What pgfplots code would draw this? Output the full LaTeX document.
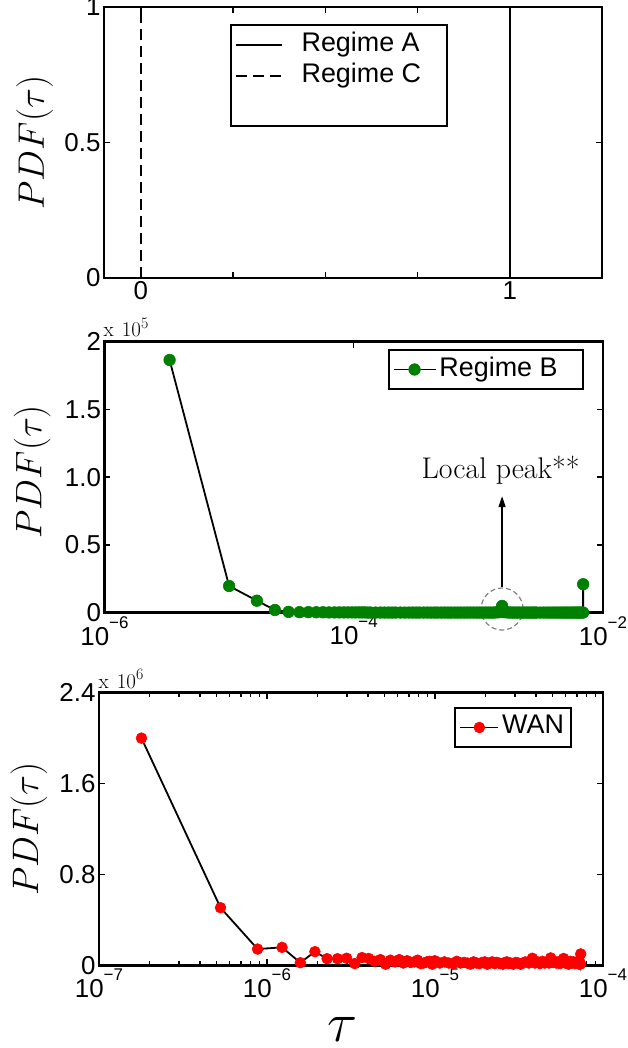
\RequirePackage{fix-cm}
\documentclass[border=0pt]{standalone}
\usepackage{fontspec}
\usepackage{pgfplots}
\pgfplotsset{compat=1.18}
\usetikzlibrary{arrows.meta}
\newfontfamily\arial{Liberation Sans}
% power-of-ten tick label in the sans face
\newcommand{\tenpow}[1]{10\raisebox{17bp}{\fontsize{17}{17}\selectfont −#1}}
% axis multiplier written above the y axis
\newcommand{\multiplier}[1]{{\fontsize{21}{24}\selectfont x\hspace{8bp}10\raisebox{8.5bp}{\fontsize{16}{16}\selectfont #1}}}
\definecolor{mgreen}{rgb}{0,0.5,0}

\pgfplotsset{
  panel/.style={
    scale only axis, clip=false, anchor=south west,
    axis line style={line width=2.4bp},
    tick align=inside, tick pos=both,
    major tick length=6bp, minor tick length=4bp,
    every tick/.style={black, line width=1.4bp},
    tick label style={font=\arial\fontsize{26}{31}\selectfont},
    label style={font=\fontsize{37}{44}\selectfont},
    legend cell align=left,
    legend style={draw=black, line width=2bp, font=\arial\fontsize{27}{32}\selectfont,
      inner sep=4bp,
      nodes={text height=19bp, text depth=6bp, inner sep=3bp}},
  },
  markleg/.style 2 args={
    legend image code/.code={%
      \draw[mark repeat=2,mark phase=2,##1] plot coordinates {(0bp,0bp) (#1,0bp) (#2,0bp)};}
  },
}

\begin{document}
\begin{tikzpicture}
\useasboundingbox (0,0) rectangle (628bp,1048bp);

% ---------- top: regimes A and C ----------
\begin{axis}[panel, at={(104bp,770bp)}, width=498bp, height=271bp,
  xmin=-0.1, xmax=1.25, ymin=0, ymax=1,
  xtick={0,0.25,0.5,0.75,1}, xticklabels={0,,,,1},
  xticklabel style={inner sep=3bp},
  ytick={0,0.5,1}, yticklabels={0,0.5,1},
  ylabel={$PDF(\tau)$},
  ylabel style={at={(axis description cs:-0.139,0.5)}, anchor=center},
  legend style={at={(axis description cs:0.253,0.936)}, anchor=north west},
  legend image code/.code={\draw[#1] (0bp,0bp) -- (46bp,0bp); \path (62bp,0bp);},
]
\addplot[black, line width=1.6bp] coordinates {(1,0) (1,1)};
\addlegendentry{Regime A\rule{20bp}{0pt}}
\addplot[black, line width=1.6bp, dash pattern=on 11bp off 6bp] coordinates {(0,0) (0,1)};
\addlegendentry{Regime C}
\addlegendimage{empty legend}
\addlegendentry{}
\end{axis}

% ---------- middle: regime B (values in units of 1e5) ----------
\begin{axis}[panel, at={(104.5bp,435.3bp)}, width=498.5bp, height=271bp,
  xmode=log, xmin=1e-6, xmax=1e-2, ymin=0, ymax=2,
  xtick={1e-6,1e-4,1e-2}, xticklabels={\tenpow{6},\tenpow{4},\tenpow{2}},
  xminorticks=false,
  ytick={0,0.5,1,1.5,2}, yticklabels={0,0.5,1.0,1.5,2},
  ylabel={$PDF(\tau)$},
  ylabel style={at={(axis description cs:-0.145,0.52)}, anchor=center},
  legend style={at={(axis description cs:0.961,0.973)}, anchor=north east},
  markleg={21bp}{42bp},
]
\addplot[black, line width=1.8bp, mark=*, mark size=5.8bp,
  mark options={fill=mgreen, draw=mgreen, line width=0.6bp}] coordinates {
  (3.33e-6,1.865) (1.0e-5,0.197) (1.67e-5,0.0886) (2.33e-5,0.02)
  (3.0e-5,0.006) (3.67e-5,0.004) (4.33e-5,0.004) (5.0e-5,0.003)
  (5.667e-5,0.003) (6.333e-5,0.002) (7.0e-5,0.002) (7.667e-5,0.002)
  (8.333e-5,0.002) (9.0e-5,0.002) (9.667e-5,0.002) (1.033e-4,0.002)
  (1.1e-4,0.002) (1.167e-4,0.002) (1.233e-4,0.002) (1.3e-4,0.001)
  (1.367e-4,0.001) (1.5e-4,0.001) (1.633e-4,0.001) (1.767e-4,0.001)
  (1.9e-4,0.001) (2.033e-4,0.001) (2.167e-4,0.001) (2.367e-4,0.001)
  (2.567e-4,0.001) (2.767e-4,0.001) (2.967e-4,0.001) (3.167e-4,0.001)
  (3.367e-4,0.001) (3.633e-4,0.001) (3.9e-4,0.001) (4.167e-4,0.001)
  (4.433e-4,0.001) (4.7e-4,0.001) (5.033e-4,0.001) (5.367e-4,0.001)
  (5.7e-4,0.001) (6.033e-4,0.001) (6.433e-4,0.001) (6.833e-4,0.001)
  (7.233e-4,0.001) (7.7e-4,0.001) (8.167e-4,0.001) (8.633e-4,0.001)
  (9.167e-4,0.001) (9.7e-4,0.001) (1.023e-3,0.001) (1.077e-3,0.001)
  (1.137e-3,0.001) (1.197e-3,0.001) (1.257e-3,0.001) (1.317e-3,0.001)
  (1.377e-3,0.002) (1.437e-3,0.003) (1.483e-3,0.005) (1.523e-3,0.012)
  (1.537e-3,0.03) (1.55e-3,0.05) (1.563e-3,0.03) (1.577e-3,0.012)
  (1.617e-3,0.005) (1.67e-3,0.003) (1.737e-3,0.002) (1.803e-3,0.001)
  (1.883e-3,0.001) (1.963e-3,0.001) (2.043e-3,0.001) (2.137e-3,0.001)
  (2.237e-3,0.001) (2.337e-3,0.001) (2.437e-3,0.001) (2.537e-3,0.001)
  (2.637e-3,0.001) (2.737e-3,0.001) (2.837e-3,0.001) (2.937e-3,0.001)
  (3.137e-3,0.001) (3.337e-3,0.001) (3.537e-3,0.001) (3.737e-3,0.001)
  (3.937e-3,0.001) (4.137e-3,0.001) (4.337e-3,0.001) (4.537e-3,0.001)
  (4.737e-3,0.001) (4.937e-3,0.001) (5.137e-3,0.001) (5.337e-3,0.001)
  (5.537e-3,0.001) (5.737e-3,0.001) (5.937e-3,0.001) (6.137e-3,0.001)
  (6.337e-3,0.001) (6.537e-3,0.001) (6.737e-3,0.001) (6.923e-3,0.001)
  (6.93e-3,0.21)
};
\addlegendentry{Regime B\rule{18bp}{0pt}}
\draw[gray, line width=1.2bp, dash pattern=on 5bp off 3bp]
  (axis cs:1.55e-3,0.027) circle[radius=21bp];
\draw[black, line width=1.3bp, -{Triangle[length=11bp,width=7bp]}]
  (axis cs:1.55e-3,0.19) -- (axis cs:1.55e-3,0.86);
\node[anchor=base, font=\fontsize{30}{36}\selectfont]
  at (axis cs:1.51e-3,0.992) {Local peak**};
\node[anchor=base west, inner sep=0]
  at (rel axis cs:0,1) [xshift=-1bp, yshift=4.7bp] {\multiplier{5}};
\end{axis}

% ---------- bottom: WAN (values in units of 1e6) ----------
\begin{axis}[panel, at={(99bp,82.7bp)}, width=504bp, height=272.6bp,
  xmode=log, xmin=1e-7, xmax=1e-4, ymin=0, ymax=2.4,
  xtick={1e-7,1e-6,1e-5,1e-4},
  xticklabels={\tenpow{7},\tenpow{6},\tenpow{5},\tenpow{4}},
  minor xtick={2e-7,3e-7,4e-7,5e-7,6e-7,7e-7,8e-7,9e-7,
               2e-6,3e-6,4e-6,5e-6,6e-6,7e-6,8e-6,9e-6,
               2e-5,3e-5,4e-5,5e-5,6e-5,7e-5,8e-5,9e-5},
  ytick={0,0.8,1.6,2.4}, yticklabels={0,0.8,1.6,2.4},
  ylabel={$PDF(\tau)$},
  ylabel style={at={(axis description cs:-0.139,0.5)}, anchor=center},
  xlabel={$\tau$},
  xlabel style={at={(axis description cs:0.484,-0.279)}, anchor=base,
    font=\fontsize{56}{60}\selectfont},
  legend style={at={(axis description cs:0.9385,0.9476)}, anchor=north east},
  markleg={19bp}{38bp},
]
\addplot[black, line width=1.8bp, mark=*, mark size=5.4bp,
  mark options={fill=red, draw=red, line width=0.6bp}] coordinates {
  (1.79e-7,2.0) (5.29e-7,0.507) (8.79e-7,0.143) (1.229e-6,0.158)
  (1.579e-6,0.023) (1.929e-6,0.12) (2.279e-6,0.058) (2.629e-6,0.058)
  (2.979e-6,0.062) (3.329e-6,0.015) (3.679e-6,0.068) (4.029e-6,0.06)
  (4.379e-6,0.035) (4.729e-6,0.05) (5.079e-6,0.01) (5.429e-6,0.045)
  (5.779e-6,0.03) (6.129e-6,0.05) (6.479e-6,0.02) (6.829e-6,0.04)
  (7.179e-6,0.025) (7.529e-6,0.03) (7.879e-6,0.045) (8.229e-6,0.015)
  (8.579e-6,0.02) (8.929e-6,0.03) (9.279e-6,0.035) (9.629e-6,0.01)
  (9.979e-6,0.04) (1.068e-5,0.02) (1.138e-5,0.03) (1.208e-5,0.02)
  (1.278e-5,0.015) (1.348e-5,0.035) (1.418e-5,0.02) (1.488e-5,0.025)
  (1.558e-5,0.02) (1.628e-5,0.01) (1.698e-5,0.03) (1.768e-5,0.02)
  (1.838e-5,0.015) (1.908e-5,0.025) (1.978e-5,0.03) (2.048e-5,0.01)
  (2.118e-5,0.02) (2.188e-5,0.03) (2.258e-5,0.015) (2.328e-5,0.025)
  (2.398e-5,0.02) (2.468e-5,0.015) (2.538e-5,0.01) (2.608e-5,0.025)
  (2.678e-5,0.03) (2.748e-5,0.015) (2.818e-5,0.02) (2.923e-5,0.01)
  (3.028e-5,0.025) (3.133e-5,0.02)
  (3.238e-5,0.01) (3.448e-5,0.03) (3.623e-5,0.02) (3.798e-5,0.062)
  (3.938e-5,0.02) (4.078e-5,0.03) (4.218e-5,0.015) (4.358e-5,0.035)
  (4.498e-5,0.02) (4.638e-5,0.03) (4.778e-5,0.02) (4.883e-5,0.065)
  (4.988e-5,0.025) (5.128e-5,0.035) (5.268e-5,0.02) (5.408e-5,0.03)
  (5.548e-5,0.015) (5.688e-5,0.035) (5.828e-5,0.06) (5.968e-5,0.02)
  (6.108e-5,0.03) (6.248e-5,0.01) (6.388e-5,0.035) (6.528e-5,0.02)
  (6.668e-5,0.03) (6.808e-5,0.015) (6.948e-5,0.03) (7.088e-5,0.02)
  (7.228e-5,0.01) (7.298e-5,0.025) (7.332e-5,0.01) (7.369e-5,0.1)
};
\addlegendentry{WAN}
\node[anchor=base west, inner sep=0]
  at (rel axis cs:0,1) [xshift=-0.5bp, yshift=4.4bp] {\multiplier{6}};
\end{axis}
\end{tikzpicture}
\end{document}
